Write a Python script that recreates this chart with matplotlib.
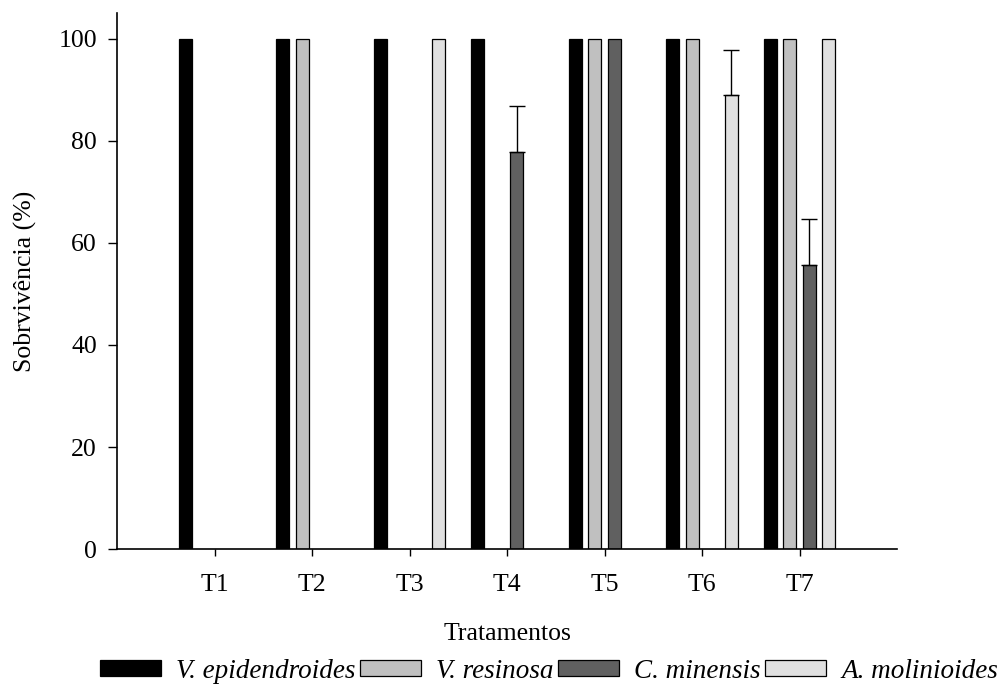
import numpy as np
import matplotlib
matplotlib.use("Agg")
import matplotlib.pyplot as plt
from matplotlib.patches import Patch

# Survival (%) per species across treatments T1..T7
treatments = ["T1", "T2", "T3", "T4", "T5", "T6", "T7"]
species = ["V. epidendroides", "V. resinosa", "C. minensis", "A. molinioides"]
v_epidendroides = [100, 100, 100, 100, 100, 100, 100]
v_resinosa = [0, 100, 0, 0, 100, 100, 100]
c_minensis = [0, 0, 0, 77.8, 100, 0, 55.6]
a_molinioides = [0, 0, 100, 0, 0, 88.9, 100]

# Upper standard errors
err_v_epidendroides = [0, 0, 0, 0, 0, 0, 0]
err_v_resinosa = [0, 0, 0, 0, 0, 0, 0]
err_c_minensis = [0, 0, 0, 8.9, 0, 0, 9.0]
err_a_molinioides = [0, 0, 0, 0, 0, 8.9, 0]

series = [v_epidendroides, v_resinosa, c_minensis, a_molinioides]
errors = [err_v_epidendroides, err_v_resinosa, err_c_minensis, err_a_molinioides]
colors = ["#000000", "#c0c0c0", "#606060", "#e0e0e0"]
offsets = [-0.3, -0.1, 0.1, 0.3]

plt.rcParams["font.family"] = ["Liberation Serif", "DejaVu Serif"]
FS = 18.5

fig = plt.figure(figsize=(10.03, 6.86), dpi=100)
ax = fig.add_axes([117 / 1003, 1 - 549.3 / 686, 780 / 1003, 536.3 / 686])

x = np.arange(1, len(treatments) + 1)
width = 0.138
for vals, errs, col, off in zip(series, errors, colors, offsets):
    vals = np.array(vals, dtype=float)
    errs = np.array(errs, dtype=float)
    mask = vals > 0
    ax.bar(x[mask] + off, vals[mask], width, color=col, edgecolor="black",
           linewidth=0.9, zorder=2)
    emask = errs > 0
    if emask.any():
        ax.errorbar(x[emask] + off, vals[emask],
                    yerr=[np.zeros(emask.sum()), errs[emask]],
                    fmt="none", ecolor="black", elinewidth=1.0,
                    capsize=5.8, capthick=1.0, zorder=3)

ax.set_xlim(0, 8)
ax.set_ylim(0, 105)
ax.set_xticks(x)
ax.set_xticklabels(treatments)
ax.set_yticks([0, 20, 40, 60, 80, 100])

for s in ["top", "right"]:
    ax.spines[s].set_visible(False)
for s in ["left", "bottom"]:
    ax.spines[s].set_linewidth(1.2)

ax.tick_params(axis="x", direction="out", length=5, width=1.0, pad=13, labelsize=FS)
ax.tick_params(axis="y", direction="out", length=6.5, width=1.0, pad=8, labelsize=FS)

ax.set_xlabel("Tratamentos", fontsize=FS)
ax.xaxis.set_label_coords(0.5, -0.137)
ax.set_ylabel("Sobrvivência (%)", fontsize=FS)
ax.yaxis.set_label_coords(-0.102, 0.5)

handles = [Patch(facecolor=c, edgecolor="black", linewidth=0.9) for c in colors]
LFS = 19.5
fig.legend(handles, species, loc="center", ncol=4, frameon=False,
           bbox_to_anchor=(549 / 1003, 1 - 671 / 686),
           prop={"size": LFS, "style": "italic"},
           handlelength=2.25, handleheight=0.52, handletextpad=0.57,
           columnspacing=0.16, borderpad=0, borderaxespad=0)

fig.savefig("out.png", dpi=100)
